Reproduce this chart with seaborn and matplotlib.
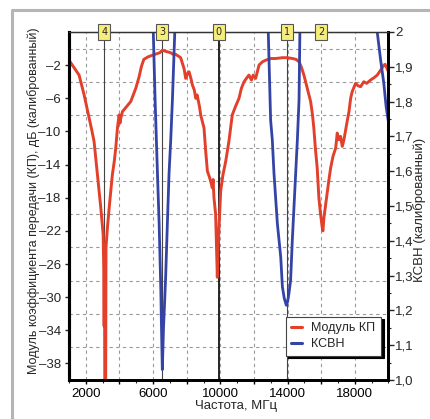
import numpy as np
import pandas as pd
import matplotlib
matplotlib.use("Agg")
import matplotlib.pyplot as plt
import matplotlib.ticker as mticker
import matplotlib.transforms as mtransforms
from matplotlib.lines import Line2D
import seaborn as sns

# ---------------- data ----------------
red_freq = [1000, 1200, 1400, 1600, 1750, 1900, 2050, 2200, 2350, 2490, 2690, 2890, 3030,
            3070, 3090, 3110, 3130, 3180, 3200, 3290, 3390, 3580, 3700, 3780, 3850, 3880,
            3940, 3980, 4030, 4080, 4180, 4670, 4970, 5170, 5300, 5450, 5700, 5960, 6250,
            6400, 6550, 6700, 7040, 7200, 7340, 7500, 7640, 7750, 7840, 7940, 8050, 8140,
            8250, 8340, 8450, 8540, 8620, 8700, 8760, 8830, 8930, 9030, 9130, 9230, 9350,
            9450, 9520, 9570, 9620, 9720, 9760, 9800, 9820, 9860, 9920, 10020, 10150,
            10320, 10510, 10710, 10900, 11110, 11250, 11410, 11550, 11700, 11850, 11950,
            12100, 12300, 12500, 12700, 13000, 13290, 13700, 14000, 14280, 14500, 14680,
            14830, 14970, 15170, 15370, 15480, 15560, 15650, 15760, 15860, 15960, 16060,
            16100, 16160, 16250, 16360, 16460, 16560, 16700, 16860, 16950, 17050, 17150,
            17250, 17350, 17450, 17540, 17650, 17750, 17840, 18040, 18200, 18340, 18530,
            18700, 18930, 19150, 19330, 19530, 19720, 19800, 19860, 20000]
red_db = [-1.4, -2.0, -2.6, -3.2, -4.4, -5.6, -7.0, -8.4, -9.8, -11.2, -15.2, -19.2, -22.4,
          -27.0, -33.5, -26.0, -41.0, -41.0, -24.0, -21.5, -19.2, -15.2, -13.5, -12.0, -10.4,
          -9.6, -8.6, -8.0, -9.0, -8.4, -7.6, -6.4, -4.8, -3.4, -2.2, -1.3, -1.0, -0.8, -0.6,
          -0.5, -0.2, -0.3, -0.5, -0.7, -0.7, -0.9, -1.1, -1.8, -2.4, -3.6, -3.0, -2.8,
          -3.6, -4.4, -5.0, -6.0, -5.6, -6.4, -7.0, -8.0, -8.8, -9.6, -12.4, -14.8, -15.5,
          -16.2, -16.8, -15.8, -18.0, -20.0, -23.2, -26.0, -27.6, -24.5, -21.6, -17.2, -15.3,
          -13.6, -11.2, -8.0, -7.0, -6.0, -4.8, -4.0, -3.6, -3.2, -3.8, -3.2,
          -3.6, -2.0, -1.6, -1.4, -1.2, -1.2, -1.1, -1.1, -1.2, -1.3, -1.6,
          -2.3, -3.2, -4.8, -6.4, -8.0, -9.6, -12.0, -14.4, -18.0, -20.0, -21.6,
          -22.0, -20.4, -19.0, -17.2, -15.8, -14.4, -13.0, -12.0, -10.2, -11.0, -10.6,
          -11.8, -11.0, -9.8, -8.8, -7.6, -6.0, -5.2, -4.2, -4.5, -4.6, -4.0,
          -4.2, -3.8, -3.5, -3.2, -2.6, -2.0, -1.9, -2.2, -2.8]

blue_freq = [1000, 5800, 5980, 6120, 6260, 6360, 6460, 6500, 6550, 6620, 6700, 6750, 6850,
             6950, 7050, 7150, 7290, 7400, 12700, 12850, 12990, 13090, 13190, 13390, 13590,
             13690, 13800, 13920, 14000, 14080, 14180, 14280, 14380, 14480, 14580, 14680,
             14730, 14850, 19200, 19330, 19530, 19720, 19860, 20000]
blue_vswr = [2.6, 2.3, 2.06, 1.805, 1.594, 1.45, 1.26, 1.15, 1.03, 1.15, 1.24, 1.30, 1.45,
             1.594, 1.69, 1.805, 2.0, 2.2, 2.2, 2.0, 1.747, 1.69, 1.594, 1.45, 1.354,
             1.268, 1.235, 1.215, 1.225, 1.249, 1.287, 1.402, 1.498, 1.594, 1.69, 1.805,
             2.0, 2.2, 2.2, 2.0, 1.92, 1.853, 1.785, 1.74]

marker_labels = ["4", "3", "0", "1", "2"]
marker_freqs = [3100, 6550, 9900, 13950, 16000]

x_ticks = [2000, 6000, 10000, 14000, 18000]
left_ticks = [-2, -6, -10, -14, -18, -22, -26, -30, -34, -38]
right_ticks = [1.0, 1.1, 1.2, 1.3, 1.4, 1.5, 1.6, 1.7, 1.8, 1.9, 2.0]

series_names = ["Модуль КП", "КСВН"]
x_label = "Частота, МГц"
left_label = "Модуль коэффициента передачи (КП), дБ (калиброванный)"
right_label = "КСВН (калиброванный)"

red_df = pd.DataFrame({"freq": red_freq, "val": red_db})
blue_df = pd.DataFrame({"freq": blue_freq, "val": blue_vswr})

# ---------------- style ----------------
sns.set_style("white")
plt.rcParams["font.family"] = ["Liberation Sans", "DejaVu Sans"]
plt.rcParams["axes.unicode_minus"] = False
FS = 9

RED = "#e2402b"
BLUE = "#3444a6"
W, H = 431, 419
fig = plt.figure(figsize=(W / 100, H / 100), dpi=100)
fig.patch.set_facecolor("white")

L, R, T, B = 69, 388.5, 32, 380
ax = fig.add_axes([L / W, 1 - B / H, (R - L) / W, (B - T) / H])
ax2 = ax.twinx()

sns.lineplot(data=red_df, x="freq", y="val", ax=ax, color=RED, lw=2.1,
             estimator=None, sort=False, label=series_names[0], legend=False)
sns.lineplot(data=blue_df, x="freq", y="val", ax=ax2, color=BLUE, lw=2.0,
             estimator=None, sort=False, label=series_names[1], legend=False)

ax.set_xlim(1000, 20000)
ax.set_ylim(-40, 2)
ax2.set_ylim(1.0, 2.0)

# grid
ax.xaxis.set_major_locator(mticker.FixedLocator(x_ticks + [4000, 8000, 12000, 16000]))
ax.xaxis.set_minor_locator(mticker.MultipleLocator(1000))
ax.xaxis.set_major_formatter(mticker.FuncFormatter(lambda v, p: f"{int(v)}" if int(v) in x_ticks else ""))
ax.yaxis.set_major_locator(mticker.FixedLocator(left_ticks))
ax.yaxis.set_minor_locator(mticker.MultipleLocator(2))
ax.yaxis.set_major_formatter(mticker.FuncFormatter(lambda v, p: f"\u2013{abs(int(round(v)))}"))
ax.grid(True, which="major", axis="x", color="#999999", lw=0.8, ls=(0, (3, 3)))
ax.grid(True, which="minor", axis="y", color="#999999", lw=0.8, ls=(0, (3, 3)))
ax.set_axisbelow(True)

ax2.yaxis.set_major_locator(mticker.FixedLocator(right_ticks))
ax2.yaxis.set_minor_locator(mticker.MultipleLocator(0.05))
ax2.yaxis.set_major_formatter(mticker.FuncFormatter(
    lambda v, p: "2" if abs(v - 2) < 1e-6 else f"{v:.1f}".replace(".", ",")))

ax.tick_params(axis="x", which="major", direction="out", length=3, width=1, pad=2.5,
               labelsize=FS + 0.5, colors="black", bottom=True)
ax.tick_params(axis="x", which="minor", direction="out", length=2, width=0.8, bottom=True)
ax.tick_params(axis="y", which="major", direction="out", length=3, width=1, pad=3,
               labelsize=FS + 0.5, left=True)
ax.tick_params(axis="y", which="minor", left=False)
ax2.tick_params(axis="y", which="major", direction="out", length=4, width=1, pad=1,
                labelsize=FS + 0.5, right=True)
ax2.tick_params(axis="y", which="minor", direction="out", length=2, width=0.8, right=True)

for a in (ax, ax2):
    for s in a.spines.values():
        s.set_visible(True)
    a.spines["left"].set_linewidth(2.2)
    a.spines["bottom"].set_linewidth(2.0)
    a.spines["right"].set_linewidth(2.0)
    a.spines["top"].set_linewidth(0.9)
    a.spines["top"].set_color("#333333")
    for k in ("left", "bottom", "right"):
        a.spines[k].set_color("black")
ax.set_xlabel(x_label, fontsize=FS + 0.5)
ax.set_ylabel(left_label, fontsize=FS)
ax2.set_ylabel(right_label, fontsize=FS + 0.5)
ax.xaxis.set_label_coords(0.523, -0.058)
ax.yaxis.set_label_coords(-0.092, 0.515)
ax2.yaxis.set_label_coords(1.077, 0.49)

# marker lines + boxes
trans = mtransforms.blended_transform_factory(ax.transData, ax.transAxes)
for lab, f in zip(marker_labels, marker_freqs):
    if lab == "0":
        ax.axvline(f, color="black", lw=1.2, zorder=1.5)
    elif lab != "2":
        ax.axvline(f, color="#444444", lw=0.8, zorder=1.5)
    ax2.text(f, 1.0, lab, transform=trans, ha="center", va="center", fontsize=7,
             fontfamily="DejaVu Sans", clip_on=False, zorder=10,
             bbox=dict(boxstyle="square,pad=0.3", fc="#f6ee78", ec="#555555", lw=0.8))

# legend
handles = [Line2D([0], [0], color=RED, lw=2.2), Line2D([0], [0], color=BLUE, lw=2.2)]
leg = ax2.legend(handles, series_names, loc="upper left", bbox_to_anchor=(0.678, 0.182),
                 fontsize=FS, frameon=True, fancybox=False, handlelength=0.9,
                 handletextpad=0.7, borderpad=0.45, labelspacing=0.3, borderaxespad=0,
                 shadow={"color": "black", "alpha": 1.0})
leg.get_frame().set_edgecolor("#444444")
leg.get_frame().set_linewidth(0.8)
leg.get_frame().set_alpha(1)

# outer frame
fig.add_artist(Line2D([12 / W, 12 / W, 1.0], [0.0, 1 - 10 / H, 1 - 10 / H],
                      transform=fig.transFigure, color="#b5b5b5", lw=2.2))

fig.savefig("out.png", dpi=100)
